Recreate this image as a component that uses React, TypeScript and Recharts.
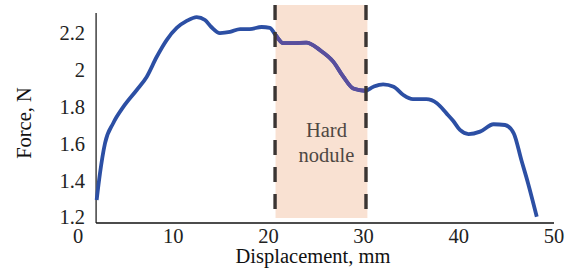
import React from 'react';
import { LineChart, Line, XAxis, YAxis, ReferenceArea, ReferenceLine } from 'recharts';

const displacement = [1.96, 2.31, 2.84, 3.71, 4.76, 6.17, 7.21, 8.26, 9.31, 10.37, 11.42, 12.47, 13.34, 14.0, 14.91, 15.97, 17.03, 18.03, 19.29, 20.15, 20.76, 21.56, 22.62, 23.98, 25.4, 26.81, 27.87, 28.92, 30.14, 31.04, 32.05, 33.16, 34.17, 35.18, 36.59, 37.7, 38.71, 39.4, 40.12, 41.03, 42.23, 43.65, 44.86, 45.77, 46.57, 47.28, 48.19];
const force = [1.295, 1.44, 1.604, 1.713, 1.8, 1.892, 1.963, 2.071, 2.163, 2.229, 2.267, 2.288, 2.272, 2.234, 2.201, 2.207, 2.223, 2.223, 2.234, 2.229, 2.19, 2.146, 2.146, 2.149, 2.109, 2.046, 1.964, 1.9, 1.888, 1.91, 1.923, 1.91, 1.865, 1.842, 1.842, 1.82, 1.765, 1.725, 1.675, 1.653, 1.666, 1.706, 1.702, 1.657, 1.512, 1.385, 1.204];

const noduleStart = 20.75;
const noduleEnd = 30.4;
const noduleLeftMark = 20.7;
const noduleRightMark = 30.25;
const noduleTop = 2.353;
const noduleBottom = 1.197;

const xTicks = [0, 10, 20, 30, 40, 50];
const yTicks = [1.2, 1.4, 1.6, 1.8, 2.0, 2.2];
const yTickLabels = ['1.2', '1.4', '1.6', '1.8', '2', '2.2'];
const yDomain = [1.17, 2.31];
const axisStartX = 1.9;

const data = displacement.map((d, i) => ({
  x: d,
  force: force[i],
  nodule: d >= noduleStart - 0.01 && d <= noduleEnd ? force[i] : null,
}));

const FONT = '"Liberation Serif", "Times New Roman", serif';
const FS = 20.5;

const XTick = (props: any) => {
  const { x, y, payload } = props;
  return (
    <text x={x} y={y + 20} textAnchor="middle" fontFamily={FONT} fontSize={FS} fill="#222">
      {payload.value}
    </text>
  );
};

const YTick = (props: any) => {
  const { x, y, payload } = props;
  const idx = yTicks.findIndex((t) => Math.abs(t - payload.value) < 1e-6);
  return (
    <text x={x + 7} y={y + 7} textAnchor="end" fontFamily={FONT} fontSize={FS} fill="#222">
      {idx >= 0 ? yTickLabels[idx] : payload.value}
    </text>
  );
};

const XLabel = (props: any) => {
  const vb = props.viewBox || {};
  const cx = vb.x + vb.width / 2 - 3;
  return (
    <text x={cx} y={vb.y + 40} textAnchor="middle" fontFamily={FONT} fontSize={FS} fill="#111">
      Displacement, mm
    </text>
  );
};

const YLabel = (props: any) => {
  const x = 31;
  const y = 123;
  return (
    <text x={x} y={y} textAnchor="middle" transform={`rotate(-90, ${x}, ${y})`} fontFamily={FONT} fontSize={FS} fill="#111">
      Force, N
    </text>
  );
};

const NoduleLabel = (props: any) => {
  const vb = props.viewBox || {};
  const cx = vb.x + vb.width / 2 + 5;
  return (
    <text x={cx} textAnchor="middle" fontFamily={FONT} fontSize={FS} fill="#4f4743">
      <tspan x={cx} y={vb.y + 132}>Hard</tspan>
      <tspan x={cx} y={vb.y + 157}>nodule</tspan>
    </text>
  );
};

export default function App() {
  return (
    <div style={{ position: 'absolute', left: 0, top: 0, background: '#fff' }}>
      <LineChart width={574} height={271} data={data} margin={{ top: 13, right: 20, left: 0, bottom: 0 }}>
        <XAxis
          dataKey="x"
          type="number"
          domain={[0, 50]}
          ticks={xTicks}
          axisLine={false}
          tickLine={false}
          tickSize={0}
          tickMargin={0}
          height={48}
          tick={<XTick />}
          label={<XLabel />}
          allowDataOverflow
        />
        <YAxis
          type="number"
          domain={yDomain}
          ticks={yTicks}
          axisLine={false}
          tickLine={false}
          tickSize={0}
          tickMargin={0}
          width={78}
          tick={<YTick />}
          label={<YLabel />}
          allowDataOverflow
        />
        <ReferenceArea
          x1={noduleStart}
          x2={noduleEnd}
          y1={noduleBottom}
          y2={noduleTop}
          ifOverflow="visible"
          fill="#f9e1d2"
          fillOpacity={1}
          stroke="none"
          label={<NoduleLabel />}
        />
        <ReferenceLine
          segment={[{ x: axisStartX, y: yDomain[1] }, { x: axisStartX, y: yDomain[0] }]}
          stroke="#222"
          strokeWidth={1.3}
          ifOverflow="visible"
        />
        <ReferenceLine
          segment={[{ x: axisStartX, y: yDomain[0] }, { x: 50, y: yDomain[0] }]}
          stroke="#111"
          strokeWidth={1.5}
          ifOverflow="visible"
        />
        <Line
          type="monotone"
          dataKey="force"
          stroke="#2c4fa4"
          strokeWidth={3.8}
          dot={false}
          isAnimationActive={false}
        />
        <Line
          type="monotone"
          dataKey="nodule"
          stroke="#5a4e9d"
          strokeWidth={3.8}
          dot={false}
          connectNulls={false}
          isAnimationActive={false}
        />
        <ReferenceLine
          segment={[{ x: noduleLeftMark, y: noduleTop }, { x: noduleLeftMark, y: noduleBottom }]}
          stroke="#3a3533"
          strokeWidth={3.4}
          strokeDasharray="15 12"
          ifOverflow="visible"
        />
        <ReferenceLine
          segment={[{ x: noduleRightMark, y: noduleTop }, { x: noduleRightMark, y: noduleBottom }]}
          stroke="#3a3533"
          strokeWidth={3.4}
          strokeDasharray="15 12"
          ifOverflow="visible"
        />
      </LineChart>
    </div>
  );
}
